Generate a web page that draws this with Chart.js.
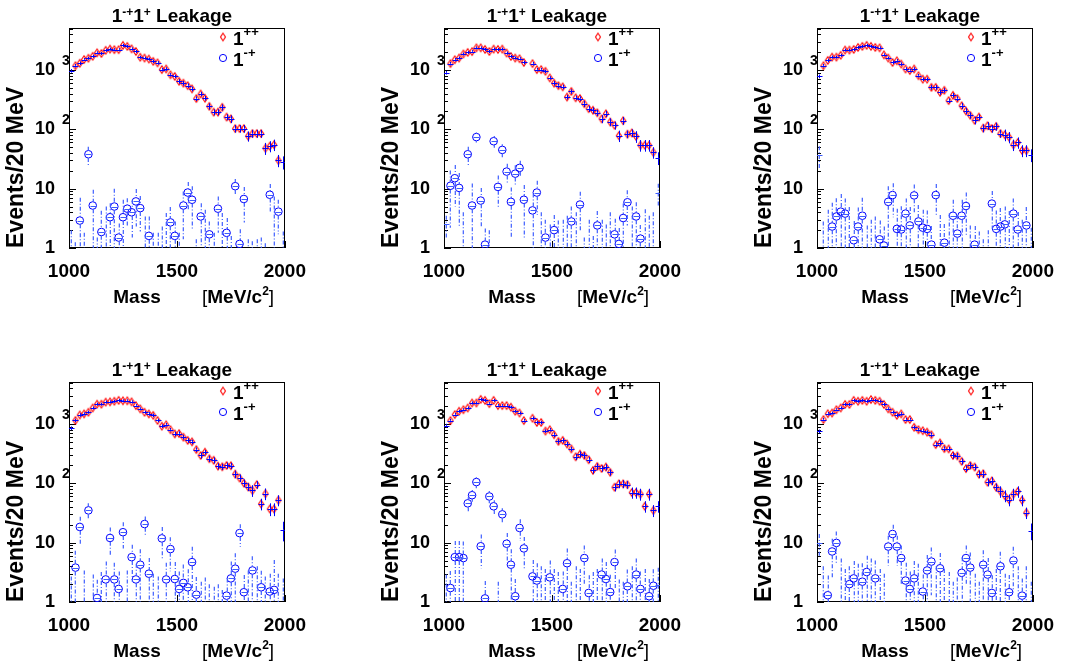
<!DOCTYPE html>
<html>
<head>
<meta charset="utf-8">
<script src="https://cdn.jsdelivr.net/npm/chart.js@4.4.0/dist/chart.umd.min.js"></script>
<style>
  html, body { margin: 0; padding: 0; background: #fff; }
  #wrap { position: relative; width: 1066px; height: 664px; overflow: hidden; }
  #wrap canvas { position: absolute; }
</style>
</head>
<body>
<div id="wrap"></div>
<script>
// bin centres (20 MeV bins)
const massBins = [1010, 1030, 1050, 1070, 1090, 1110, 1130, 1150, 1170, 1190,
  1210, 1230, 1250, 1270, 1290, 1310, 1330, 1350, 1370, 1390,
  1410, 1430, 1450, 1470, 1490, 1510, 1530, 1550, 1570, 1590,
  1610, 1630, 1650, 1670, 1690, 1710, 1730, 1750, 1770, 1790,
  1810, 1830, 1850, 1870, 1890, 1910, 1930, 1950, 1970, 1990];
const xTickValues = [1000, 1500, 2000];
const yTickValues = [1, 10, 100, 1000];
const seriesNames = ['1++', '1-+'];

// panel 1
const p1Plus = [970, 1180, 1300, 1500, 1580, 1700, 1950, 1900, 2150, 2250, 2200, 2200, 2600, 2500, 2270, 2050, 1640, 1590, 1530, 1400, 1320, 1015, 1040, 830, 780, 645, 600, 545, 480, 330, 394, 334, 244, 195, 195, 235, 161, 150, 103, 103, 103, 77, 85, 85, 85, 48, 52, 55, 30, 28];
const p1PlusErr = [68, 83, 91, 90, 95, 102, 117, 114, 129, 135, 132, 132, 156, 150, 136, 123, 98, 95, 92, 98, 92, 71, 73, 58, 55, 58, 54, 49, 43, 30, 35, 30, 29, 23, 23, 28, 19, 22, 15, 15, 15, 15, 13, 13, 13, 11, 11, 12, 7, 7];
const p1Minus = [0.4, 0.4, 2.9, 0.4, 38, 5.2, 0.4, 1.86, 0.4, 3.3, 5.0, 1.5, 3.3, 4.6, 4.0, 6.1, 4.7, 0.4, 1.6, 0.4, 0.4, 0.4, 0.4, 2.7, 1.6, 0.4, 5.2, 8.6, 6.5, 0.4, 3.4, 0.4, 1.7, 0.4, 4.6, 0.4, 1.8, 0.4, 11, 1.17, 6.7, 0.4, 0.4, 0.4, 0.4, 0.4, 7.9, 0.4, 4.1, 0.4];
const p1MinusErr = [1.6, 0.85, 4.1, 1.4, 13, 4.4, 1.1, 2.4, 4.6, 2.4, 5.0, 1.1, 3.2, 2.3, 2.5, 3.8, 2.8, 3.0, 1.8, 1.4, 1.4, 1.9, 3.5, 2.2, 1.2, 1.4, 3.8, 4.4, 4.5, 1.0, 2.3, 4.0, 1.1, 1.4, 2.8, 3.5, 1.4, 1.2, 3.5, 0.9, 4.0, 1.0, 0.9, 1.0, 1.1, 0.8, 4.1, 7.0, 2.4, 1.5];

// panel 2
const p2Plus = [900, 1280, 1490, 1590, 1860, 1980, 2040, 2360, 2360, 2220, 2050, 2250, 2220, 2250, 1930, 1690, 1590, 1550, 1340, null, 1280, 1015, 1015, 950, 735, 600, 545, 520, 350, 435, 340, 330, 270, 223, 210, 190, 150, 183, 133, 117, 78, 140, 83, 87, 76, 54, 54, 54, 41, 33];
const p2PlusErr = [63, 90, 104, 95, 112, 119, 122, 142, 142, 133, 123, 135, 133, 135, 116, 101, 95, 93, 94, null, 90, 71, 71, 67, 51, 54, 49, 47, 32, 39, 31, 30, 32, 27, 25, 23, 23, 22, 20, 18, 17, 21, 12, 13, 17, 12, 12, 12, 9, 8];
const p2Minus = [2.5, 11.2, 15, 10.3, 0.4, 38, 5.2, 74, 6.3, 1.14, 0.4, 63, 10.7, 45, 19.4, 6, 17.9, 22.4, 6.5, null, 4.3, 8.6, 0.4, 1.5, 0.4, 2.0, 0.4, 0.4, 0.4, 2.8, 0.4, 5.4, 0.4, 0.4, 0.4, 2.4, 0.4, 0.4, 0.4, 1.7, 1.17, 3.2, 5.9, 0.4, 3.4, 1.44, 0.4, 0.4, 0.4, 8.6];
const p2MinusErr = [1.0, 9, 10, 8, 3.6, 13, 7, 14, 4, 1.0, 1.6, 14, 6, 11, 7, 4.5, 7, 7, 5, null, 4, 5, 3.6, 1.5, 2.1, 1.6, 2.5, 2.6, 3.1, 2.2, 3.6, 3.5, 1.1, 2.6, 1.2, 1.8, 2.6, 2.1, 3.6, 1.4, 1.0, 2.4, 3.5, 4.6, 2.5, 1.0, 4.1, 3.1, 3.6, 3.5];

// panel 3
const p3Plus = [780, 1180, 1450, 1650, 1650, 1770, 2170, 2170, 2220, 2400, 2500, 2600, 2500, 2400, 2360, 1800, 1590, 1340, 1430, 1260, 1040, 980, 1040, 800, 700, 700, 510, 510, 420, 455, 305, 375, 330, 250, 204, 172, 142, 161, 105, 115, 103, 112, 85, 81, 74, 55, 60, 44, 44, 37];
const p3PlusErr = [55, 83, 102, 99, 99, 106, 130, 130, 133, 144, 150, 156, 150, 144, 142, 108, 95, 94, 100, 88, 73, 69, 73, 56, 49, 49, 46, 46, 38, 41, 27, 34, 30, 30, 24, 21, 21, 19, 16, 17, 15, 17, 13, 18, 16, 12, 13, 10, 10, 9];
const p3Minus = [37, 0.4, 0.4, 2.3, 3.4, 4.1, 3.8, 0.4, 1.35, 2.3, 3.5, 0.4, 0.4, 0.4, 1.4, 1.1, 6.0, 7.8, 2.1, 2.05, 3.8, 2.4, 7.7, 2.8, 2.2, 2.1, 1.14, 7.8, 0.4, 1.23, 0.4, 3.5, 1.75, 3.5, 5.1, 0.4, 1.14, 0.4, 0.4, 0.4, 5.6, 2.1, 2.3, 2.5, 0.4, 3.8, 2.05, 0.4, 2.4, 0.4];
const p3MinusErr = [15, 2.4, 4.0, 3.5, 3.5, 4, 3, 4.5, 1.5, 2.5, 3.5, 2.0, 2.6, 3.0, 1.5, 1.2, 5, 4.5, 2.5, 3, 3, 2.5, 4, 2.5, 2.2, 2.2, 1.2, 4.2, 3.2, 1.3, 3.4, 3, 1.8, 3, 3.5, 2.0, 1.2, 1.5, 1.0, 1.6, 3.5, 2.2, 2.4, 2.5, 3.8, 3, 2, 2.6, 2.5, 1.8];

// panel 4
const p4Plus = [850, 1150, 1420, 1480, 1580, 1860, 2160, 2160, 2340, 2360, 2420, 2500, 2460, 2460, 2360, 2040, 1800, 1580, 1480, 1400, 1150, 920, 970, 800, 680, 690, 600, 530, 500, 370, 295, 335, 260, 245, 195, 190, 200, 198, 143, 123, 101, 87, 76, 95, 45, 67, 37, 37, 52, 16.5];
const p4PlusErr = [60, 81, 99, 89, 95, 112, 130, 130, 140, 142, 145, 150, 148, 148, 142, 122, 108, 95, 104, 98, 81, 64, 68, 56, 61, 62, 54, 48, 45, 33, 35, 30, 31, 29, 23, 23, 24, 24, 21, 18, 15, 13, 17, 14, 10, 15, 9, 9, 11, 6];
const p4Minus = [0.4, 3.8, 18.4, 0.4, 35, 0.4, 1.17, 0.4, 2.4, 12, 2.4, 1.66, 15, 0.4, 5.7, 2.4, 4.25, 20.6, 3.0, 0.4, 0.4, 11.8, 2.4, 7.8, 2.44, 1.66, 2.1, 1.77, 4.7, 1.33, 0.4, 0.4, 0.4, 0.4, 0.4, 0.4, 1.28, 2.5, 3.65, 14.5, 1.46, 0.4, 3.4, 0.4, 1.77, 0.4, 1.5, 1.6, 0.4, 0.4];
const p4MinusErr = [2.3, 3.5, 9, 3, 11, 2.5, 1.2, 2.8, 2.4, 6, 2.2, 1.6, 7, 3, 3.5, 2, 3.5, 7, 2.5, 2.6, 2.3, 6.5, 2.2, 4.5, 2.3, 1.6, 2.2, 1.8, 3.8, 1.3, 1.8, 2.2, 1.6, 1.4, 1.6, 1.2, 1.2, 2.3, 3, 6, 1.4, 3, 2.5, 3.6, 1.6, 2.3, 1.5, 3.5, 2.6, 2.1];

// panel 5
const p5Plus = [940, 1140, 1440, 1640, 1740, 1860, 2260, 2260, 2600, 2500, 2200, 2500, 2040, 2040, 2040, 1920, 1640, 1530, 1140, null, 1250, 1060, 1060, 760, 800, 660, 510, 530, 460, 380, 280, 310, 295, 250, 165, 193, 178, 188, 153, 86, 98, 98, 95, 70, 70, 66, 41, 66, 35, 41];
const p5PlusErr = [66, 80, 101, 98, 104, 112, 136, 136, 156, 150, 132, 150, 122, 122, 122, 115, 98, 92, 80, null, 88, 74, 74, 53, 56, 59, 46, 48, 41, 34, 34, 37, 35, 30, 20, 23, 21, 23, 18, 13, 15, 15, 14, 15, 15, 15, 9, 15, 8, 9];
const p5Minus = [0.4, 1.72, 5.7, 5.7, 5.5, 46, 63, 105, 8.7, 1.15, 60, 41, 0.4, 30, 9.6, 4.25, 1.25, 17.7, 8.0, null, 2.7, 2.3, 0.4, 0.4, 2.6, 0.4, 0.4, 1.66, 4.5, 0.4, 0.4, 0.4, 5.5, 1.42, 0.4, 0.4, 2.9, 2.44, 1.47, 4.7, 0.4, 0.4, 1.84, 0.4, 2.9, 1.66, 0.4, 1.25, 1.88, 1.96];
const p5MinusErr = [2.5, 1.6, 5, 5, 5, 12, 14, 22, 5, 1.1, 14, 11, 1.8, 8, 5, 3.5, 1.2, 7, 4.5, null, 2.4, 2.2, 3.6, 3.2, 2.4, 3.2, 2.8, 1.6, 3.5, 1.8, 3.6, 3.2, 3.5, 1.4, 2.8, 3.2, 2.5, 2.3, 1.4, 3, 2, 1.8, 1.7, 3.6, 2.5, 1.6, 3.2, 1.2, 1.7, 1.8];

// panel 6
const p6Plus = [750, 1190, 1490, 1530, 1740, 1860, 2140, 2140, 2500, 2420, 2500, 2420, 2580, 2500, 2420, 2140, 1800, 1580, 1400, 1480, 1190, 1190, 880, 800, 770, 730, 660, 450, 480, 385, 380, 295, 290, 235, 177, 200, 188, 143, 145, 105, 110, 86, 73, 62, 53, 66, 73, 52, 32, 16];
const p6PlusErr = [53, 83, 104, 92, 104, 112, 128, 128, 150, 145, 150, 145, 155, 150, 145, 128, 108, 95, 98, 104, 83, 83, 62, 56, 54, 51, 59, 41, 43, 35, 34, 35, 35, 28, 21, 24, 23, 21, 22, 16, 17, 13, 16, 14, 12, 15, 16, 11, 7, 5];
const p6Minus = [10, 0.4, 1.3, 7.1, 9.9, 0.4, 0.4, 2.0, 2.5, 0.4, 2.2, 3.2, 0.4, 2.5, 0.4, 0.4, 8.6, 14, 8.6, 5.5, 2.3, 1.66, 2.5, 0.4, 1.5, 3.4, 4.8, 0.4, 3.7, 0.4, 0.4, 0.4, 0.4, 3.1, 5.5, 3.8, 0.4, 0.4, 4.25, 2.9, 1.42, 0.4, 4.0, 0.4, 1.46, 5.0, 0.4, 1.28, 0.4, 0.4];
const p6MinusErr = [4, 3.6, 1.5, 4.5, 5.5, 5, 3.2, 2, 2.4, 4, 2.3, 2.8, 5, 2.5, 3.2, 2.6, 4.5, 6, 4.5, 3.5, 2.3, 1.6, 2.4, 4, 1.4, 2.8, 3.5, 3.6, 3, 3.2, 2.8, 1.8, 2.2, 2.6, 3.5, 3, 2.6, 1.8, 3.2, 2.6, 1.4, 3.2, 3, 2.6, 1.4, 3.5, 3.6, 1.2, 3.6, 1.8];

const panelData = [
  [p1Plus, p1PlusErr, p1Minus, p1MinusErr],
  [p2Plus, p2PlusErr, p2Minus, p2MinusErr],
  [p3Plus, p3PlusErr, p3Minus, p3MinusErr],
  [p4Plus, p4PlusErr, p4Minus, p4MinusErr],
  [p5Plus, p5PlusErr, p5Minus, p5MinusErr],
  [p6Plus, p6PlusErr, p6Minus, p6MinusErr],
];

// where each pad canvas sits on the page
const padPos = [
  { left: 0, top: 0, h: 332 }, { left: 375, top: 0, h: 332 }, { left: 748, top: 0, h: 332 },
  { left: 0, top: 354, h: 310 }, { left: 375, top: 354, h: 310 }, { left: 748, top: 354, h: 310 },
];

const FONT = "'Liberation Sans', Arial, Helvetica, sans-serif";
const RED = '#ff0000';
const BLUE = '#0000ff';
const BAR_BLUE = '#3d5dff';
Chart.defaults.font.family = FONT;
Chart.defaults.color = '#000';

// open diamond marker, taller than wide like ROOT's
function makeDiamond(color, hw, hh) {
  const c = document.createElement('canvas');
  c.width = Math.ceil(hw * 2 + 3);
  c.height = Math.ceil(hh * 2 + 3);
  const g = c.getContext('2d');
  const cx = c.width / 2, cy = c.height / 2;
  g.strokeStyle = color;
  g.lineWidth = 1.1;
  g.beginPath();
  g.moveTo(cx, cy - hh); g.lineTo(cx + hw, cy); g.lineTo(cx, cy + hh); g.lineTo(cx - hw, cy);
  g.closePath();
  g.stroke();
  return c;
}
const diamond = makeDiamond(RED, 2.5, 3.7);

// text runs: [text, superscript?, bold?]
function drawRuns(ctx, runs, x, base, size, supSize, rise, align) {
  const fonts = runs.map(r => `${r[2] === false ? '' : 'bold '}${r[1] ? supSize : size}px ${FONT}`);
  const widths = runs.map((r, i) => { ctx.font = fonts[i]; return ctx.measureText(r[0]).width; });
  const total = widths.reduce((a, b) => a + b, 0);
  let cx = align === 'center' ? x - total / 2 : x;
  ctx.textAlign = 'left';
  ctx.textBaseline = 'alphabetic';
  runs.forEach((r, i) => {
    ctx.font = fonts[i];
    ctx.fillText(r[0], cx, r[1] ? base - rise : base);
    cx += widths[i];
  });
}

// error bars, drawn through the chart scales
const errorBarPlugin = {
  id: 'errorBars',
  afterDatasetsDraw(chart) {
    const { ctx, chartArea: a, scales: { x, y } } = chart;
    ctx.save();
    ctx.beginPath();
    ctx.rect(a.left, a.top, a.right - a.left, a.bottom - a.top);
    ctx.clip();
    chart.data.datasets.forEach(ds => {
      const errs = ds.errors;
      ctx.strokeStyle = ds.errColor;
      ds.data.forEach((p, i) => {
        if (p.y == null || errs[i] == null) return;
        const xc = Math.round(x.getPixelForValue(p.x));
        const px = xc + ds.errShift;
        const py = y.getPixelForValue(p.y);
        const hi = y.getPixelForValue(p.y + errs[i]);
        const lo = p.y - errs[i] > 0 ? y.getPixelForValue(p.y - errs[i]) : a.bottom + 4;
        const edge = i === 0 || i === ds.data.length - 1;
        const gap = edge ? 0 : ds.errGap;
        ctx.lineWidth = ds.errWidth;
        ctx.setLineDash(ds.errDash);
        ctx.beginPath();
        ctx.moveTo(px, hi); ctx.lineTo(px, py - gap);
        ctx.moveTo(px, py + gap); ctx.lineTo(px, lo);
        ctx.stroke();
        ctx.setLineDash([]);
        ctx.lineWidth = 1;
        ctx.beginPath();
        ctx.moveTo(xc + 0.5 - ds.errHalf, Math.round(py) + 0.5);
        ctx.lineTo(xc + 0.5 + ds.errHalf, Math.round(py) + 0.5);
        ctx.stroke();
      });
    });
    ctx.restore();
  }
};

// ROOT-like frame, inward ticks, title, legend, axis title
const decorPlugin = {
  id: 'decor',
  beforeDatasetsDraw(chart) {
    const { ctx, chartArea: a, scales: { x, y } } = chart;
    ctx.save();
    ctx.strokeStyle = '#000';
    ctx.lineWidth = 1;
    ctx.strokeRect(Math.round(a.left) + 0.5, Math.round(a.top) + 0.5,
      Math.round(a.right - a.left) - 1, Math.round(a.bottom - a.top) - 1);
    ctx.beginPath();
    for (let d = 1; d <= y.max; d *= 10) {
      for (let k = 1; k <= 9; k++) {
        const v = d * k;
        if (v > y.max) break;
        const py = Math.round(y.getPixelForValue(v)) + 0.5;
        ctx.moveTo(a.left, py);
        ctx.lineTo(a.left + (k === 1 ? 7 : 4), py);
      }
    }
    xTickValues.forEach(v => {
      const px = Math.round(x.getPixelForValue(v)) + 0.5;
      ctx.moveTo(px, a.bottom);
      ctx.lineTo(px, a.bottom - 7);
    });
    ctx.stroke();
    ctx.restore();
  },
  afterDraw(chart) {
    const { ctx, chartArea: a, scales: { y } } = chart;
    ctx.save();
    ctx.fillStyle = '#000';

    // exponents on the y labels (10^2, 10^3)
    yTickValues.forEach(v => {
      const e = Math.round(Math.log10(v));
      if (e < 2) return;
      ctx.font = `bold 14px ${FONT}`;
      ctx.textAlign = 'left';
      ctx.textBaseline = 'alphabetic';
      ctx.fillText(String(e), a.left - 7, y.getPixelForValue(v) - 5);
    });

    // title
    drawRuns(ctx, [['1'], ['-+', true], ['1'], ['+', true], [' Leakage']],
      (a.left + a.right) / 2 - 5, a.top - 6, 19, 12, 6, 'center');

    // legend
    chart.data.datasets.forEach((ds, i) => {
      const my = a.top + 9 + 21 * i;
      const mx = a.left + 154;
      if (ds.pointStyle === 'circle') {
        ctx.strokeStyle = ds.borderColor;
        ctx.lineWidth = 1;
        ctx.beginPath();
        ctx.arc(mx, my, 3.6, 0, Math.PI * 2);
        ctx.stroke();
      } else {
        ctx.drawImage(ds.pointStyle, mx - ds.pointStyle.width / 2, my - ds.pointStyle.height / 2);
      }
      drawRuns(ctx, [[ds.label.slice(0, 1)], [ds.label.slice(1), true]],
        a.left + 164, my + 8, 19, 13, 9, 'left');
    });

    // x axis title
    drawRuns(ctx, [['Mass']], a.left + 68, a.bottom + 55, 19, 12, 8, 'center');
    drawRuns(ctx, [['[', false, false], ['MeV/c'], ['2', true], [']', false, false]],
      a.left + 133, a.bottom + 55, 19, 12, 8, 'left');
    ctx.restore();
  }
};

const wrap = document.getElementById('wrap');

panelData.forEach((pd, k) => {
  const [plus, plusErr, minus, minusErr] = pd;
  const pos = padPos[k];
  const canvas = document.createElement('canvas');
  canvas.width = 318;
  canvas.height = pos.h;
  canvas.style.left = pos.left + 'px';
  canvas.style.top = pos.top + 'px';
  canvas.style.width = '318px';
  canvas.style.height = pos.h + 'px';
  wrap.appendChild(canvas);

  const hideEdges = ctx => (ctx.dataIndex === 0 || ctx.dataIndex === massBins.length - 1) ? 0 : 3.8;

  new Chart(canvas.getContext('2d'), {
    type: 'scatter',
    data: {
      datasets: [
        {
          label: seriesNames[0],
          data: massBins.map((m, i) => ({ x: m, y: plus[i] })),
          errors: plusErr,
          errColor: BLUE,
          errWidth: 1,
          errShift: 0.5,
          errDash: [],
          errGap: 0,
          errHalf: 3,
          pointStyle: diamond,
          pointRadius: hideEdges,
          borderColor: RED,
          backgroundColor: 'rgba(0,0,0,0)',
          showLine: false,
        },
        {
          label: seriesNames[1],
          data: massBins.map((m, i) => ({ x: m, y: minus[i] })),
          errors: minusErr,
          errColor: BAR_BLUE,
          errWidth: 1.2,
          errShift: 0.3,
          errDash: [4, 2, 1, 2],
          errGap: 3.8,
          errHalf: 3,
          pointStyle: 'circle',
          pointRadius: hideEdges,
          borderWidth: 1,
          borderColor: BLUE,
          backgroundColor: 'rgba(0,0,0,0)',
          showLine: false,
        },
      ],
    },
    options: {
      responsive: false,
      animation: false,
      devicePixelRatio: 1,
      events: [],
      layout: { padding: { left: 0, top: 28, right: 28, bottom: 0 } },
      plugins: {
        legend: { display: false },
        title: { display: false },
        tooltip: { enabled: false },
      },
      scales: {
        x: {
          type: 'linear',
          min: 1000,
          max: 2000,
          grid: { display: false, drawTicks: false },
          border: { display: false },
          afterBuildTicks: s => { s.ticks = xTickValues.map(v => ({ value: v })); },
          afterFit: s => { s.height = pos.h - 248; },
          ticks: {
            autoSkip: false,
            maxRotation: 0,
            padding: 12,
            font: { size: 19, weight: 'bold' },
            callback: v => String(v),
          },
        },
        y: {
          type: 'logarithmic',
          min: 1,
          max: 5100,
          grid: { display: false, drawTicks: false },
          border: { display: false },
          afterBuildTicks: s => { s.ticks = yTickValues.map(v => ({ value: v })); },
          afterFit: s => { s.width = 69; },
          ticks: {
            autoSkip: false,
            padding: 14,
            font: { size: 18, weight: 'bold' },
            callback: v => (v === 1 ? '1' : '10'),
          },
          title: {
            display: true,
            text: 'Events/20 MeV',
            align: 'start',
            padding: { top: 3, bottom: 0 },
            font: { size: 23, weight: 'bold' },
          },
        },
      },
    },
    plugins: [decorPlugin, errorBarPlugin],
  });
});
</script>
</body>
</html>
